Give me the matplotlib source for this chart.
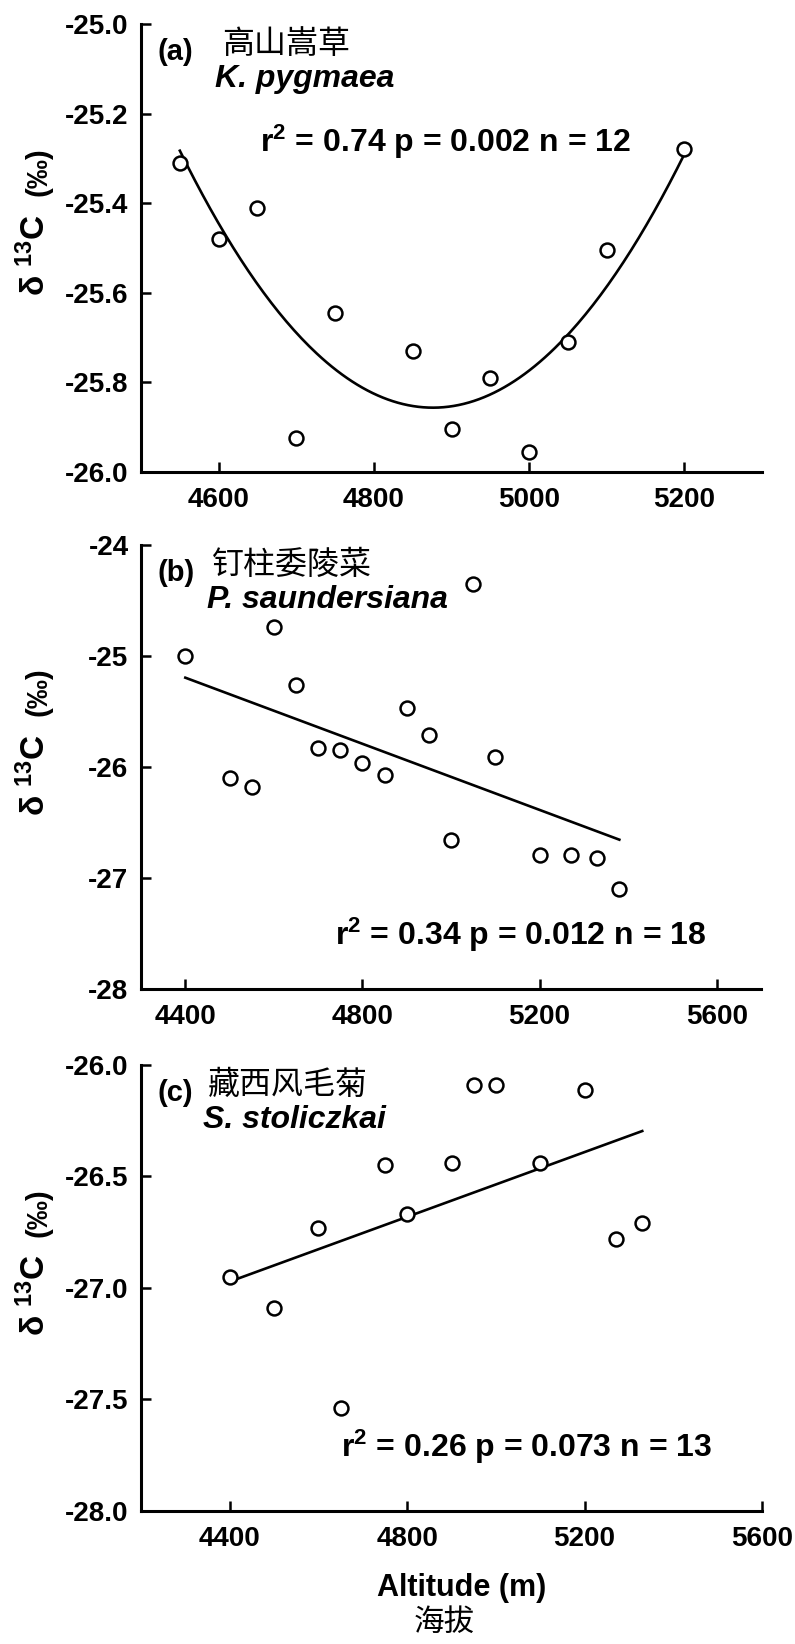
import matplotlib

matplotlib.use("Agg")

import matplotlib.pyplot as plt
import numpy as np
from matplotlib.ticker import FormatStrFormatter, MultipleLocator

IMAGE_DPI = 100.0
LATIN = ["Liberation Sans", "DejaVu Sans"]
CJK = ["Noto Sans CJK SC", "DejaVu Sans"]

plt.rcParams["axes.unicode_minus"] = False

# (a) K. pygmaea
alt_a = [4550, 4600, 4650, 4700, 4750, 4850, 4900, 4950, 5000, 5050, 5100, 5200]
d13c_a = [-25.31, -25.48, -25.41, -25.925, -25.645, -25.73, -25.905, -25.79,
          -25.955, -25.71, -25.505, -25.28]

# (b) P. saundersiana
alt_b = [4400, 4500, 4550, 4600, 4650, 4700, 4750, 4800, 4850, 4900, 4950,
         5000, 5050, 5100, 5200, 5270, 5330, 5380]
d13c_b = [-25.0, -26.1, -26.18, -24.74, -25.26, -25.83, -25.85, -25.96, -26.07,
          -25.47, -25.71, -26.66, -24.35, -25.91, -26.79, -26.79, -26.82, -27.1]

# (c) S. stoliczkai
alt_c = [4400, 4500, 4600, 4650, 4750, 4800, 4900, 4950, 5000, 5100, 5200,
         5270, 5330]
d13c_c = [-26.95, -27.09, -26.73, -27.54, -26.45, -26.67, -26.44, -26.09,
          -26.09, -26.44, -26.11, -26.78, -26.71]

panels = [
    {
        "tag": "(a)", "cn": "高山嵩草", "latin": "K. pygmaea",
        "x": alt_a, "y": d13c_a, "deg": 2,
        "stats": "r$\\mathregular{^2}$ = 0.74 p = 0.002 n = 12",
        "xlim": (4500, 5300), "xticks": [4600, 4800, 5000, 5200],
        "ylim": (-26.0, -25.0), "ystep": 0.2, "yfmt": "%.1f",
        "rect": [0.1774, 0.7129, 0.7811, 0.2725],
        "cn_x": 0.130, "latin_x": 0.119,
        "stats_pos": (0.4895, 0.737),
    },
    {
        "tag": "(b)", "cn": "钉柱委陵菜", "latin": "P. saundersiana",
        "x": alt_b, "y": d13c_b, "deg": 1,
        "stats": "r$\\mathregular{^2}$ = 0.34 p = 0.012 n = 18",
        "xlim": (4300, 5700), "xticks": [4400, 4800, 5200, 5600],
        "ylim": (-28, -24), "ystep": 1, "yfmt": "%d",
        "rect": [0.1774, 0.3984, 0.7799, 0.2701],
        "cn_x": 0.114, "latin_x": 0.106,
        "stats_pos": (0.613, 0.122),
    },
    {
        "tag": "(c)", "cn": "藏西风毛菊", "latin": "S. stoliczkai",
        "x": alt_c, "y": d13c_c, "deg": 1,
        "stats": "r$\\mathregular{^2}$ = 0.26 p = 0.073 n = 13",
        "xlim": (4200, 5600), "xticks": [4400, 4800, 5200, 5600],
        "ylim": (-28.0, -26.0), "ystep": 0.5, "yfmt": "%.1f",
        "rect": [0.1774, 0.0809, 0.7811, 0.2713],
        "cn_x": 0.108, "latin_x": 0.100,
        "stats_pos": (0.6216, 0.1435),
    },
]

fig = plt.figure(figsize=(795 / IMAGE_DPI, 1644 / IMAGE_DPI), dpi=IMAGE_DPI,
                 facecolor="white")

for p in panels:
    ax = fig.add_axes(p["rect"])
    x = np.array(p["x"], dtype=float)
    y = np.array(p["y"], dtype=float)

    # regression curve over the sampled altitude range
    coef = np.polyfit(x, y, p["deg"])
    xs = np.linspace(x.min(), x.max(), 200)
    ax.plot(xs, np.polyval(coef, xs), color="black", linewidth=1.9, zorder=2)

    ax.plot(x, y, linestyle="none", marker="o", markersize=10,
            markerfacecolor="white", markeredgecolor="black",
            markeredgewidth=1.8, zorder=3)

    ax.set_xlim(p["xlim"])
    ax.set_ylim(p["ylim"])
    ax.set_xticks(p["xticks"])
    ax.yaxis.set_major_locator(MultipleLocator(p["ystep"]))
    ax.yaxis.set_major_formatter(FormatStrFormatter(p["yfmt"]))

    for side in ["top", "right"]:
        ax.spines[side].set_visible(False)
    for side in ["left", "bottom"]:
        ax.spines[side].set_linewidth(2.2)

    ax.tick_params(direction="in", length=7, width=1.8)
    ax.tick_params(axis="x", pad=11)
    ax.tick_params(axis="y", pad=9)
    for label in ax.get_xticklabels() + ax.get_yticklabels():
        label.set_family(LATIN)
        label.set_fontweight("bold")
        label.set_fontsize(20)

    ax.text(0.027, 0.9375, p["tag"], transform=ax.transAxes, ha="left",
            va="center", family=LATIN, fontweight="bold", fontsize=21)
    ax.text(p["cn_x"], 0.955, p["cn"], transform=ax.transAxes, ha="left",
            va="center", family=CJK, fontsize=23)
    ax.text(p["latin_x"], 0.877, p["latin"], transform=ax.transAxes,
            ha="left", va="center", family=LATIN, fontweight="bold",
            fontstyle="italic", fontsize=23)
    ax.text(p["stats_pos"][0], p["stats_pos"][1], p["stats"],
            transform=ax.transAxes, ha="center", va="center", family=LATIN,
            fontweight="bold", fontsize=23)

    # y label: delta-13C, then the per-mil unit after a gap
    ax.text(-0.171, 0.575, "δ $\\mathregular{^{13}}$C",
            transform=ax.transAxes, rotation=90, ha="center", va="top",
            family=LATIN, fontweight="bold", fontsize=24)
    ax.text(-0.165, 0.67, "(‰)", transform=ax.transAxes, rotation=90,
            ha="center", va="center", family=LATIN, fontweight="bold",
            fontsize=21)

fig.text(462 / 795, 1 - 1588 / 1644, "Altitude (m)", ha="center",
         va="center", family=LATIN, fontweight="bold", fontsize=22)
fig.text(444 / 795, 1 - 1622 / 1644, "海拔", ha="center", va="center",
         family=CJK, fontsize=22)

fig.savefig("out.png", dpi=IMAGE_DPI, facecolor="white")
